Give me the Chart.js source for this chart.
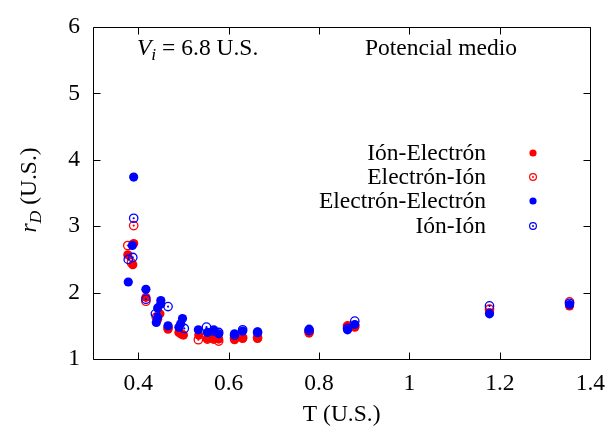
<!DOCTYPE html>
<html>
<head>
<meta charset="utf-8">
<script src="https://cdn.jsdelivr.net/npm/chart.js@4.4.1/dist/chart.umd.min.js"></script>
<style>
  html, body { margin: 0; padding: 0; background: #fff; }
  #wrap { width: 616px; height: 427px; position: relative; }
</style>
</head>
<body>
<div id="wrap"><canvas id="rdChart"></canvas></div>
<script>
// Screening radius r_D versus temperature, mean-potential run (V_i = 6.8)
const xTicks = [0.4, 0.6, 0.8, 1, 1.2, 1.4];
const yTicks = [1, 2, 3, 4, 5, 6];

const seriesNames = ['Ión-Electrón', 'Electrón-Ión', 'Electrón-Electrón', 'Ión-Ión'];

// Ión-Electrón
const ieT = [0.377, 0.388, 0.390, 0.417, 0.443, 0.448, 0.466, 0.490, 0.500, 0.534, 0.553, 0.567, 0.578, 0.613, 0.631, 0.664, 0.778, 0.863, 0.879, 1.177, 1.354];
const ieR = [2.57, 2.42, 2.74, 1.93, 1.60, 1.68, 1.45, 1.40, 1.36, 1.36, 1.31, 1.31, 1.30, 1.29, 1.31, 1.31, 1.39, 1.49, 1.48, 1.70, 1.80];

// Electrón-Ión
const eiT = [0.377, 0.385, 0.390, 0.417, 0.440, 0.466, 0.495, 0.533, 0.553, 0.567, 0.578, 0.613, 0.631, 0.664, 0.778, 0.863, 0.879, 1.177, 1.354];
const eiR = [2.71, 2.45, 3.01, 1.87, 1.63, 1.47, 1.38, 1.29, 1.30, 1.30, 1.27, 1.31, 1.32, 1.32, 1.41, 1.50, 1.50, 1.75, 1.86];

// Electrón-Electrón
const eeT = [0.378, 0.387, 0.390, 0.417, 0.440, 0.443, 0.443, 0.450, 0.450, 0.466, 0.490, 0.494, 0.498, 0.533, 0.553, 0.567, 0.578, 0.613, 0.631, 0.664, 0.778, 0.863, 0.879, 1.177, 1.354];
const eeR = [2.16, 2.71, 3.74, 2.05, 1.55, 1.63, 1.77, 1.88, 1.83, 1.50, 1.48, 1.53, 1.61, 1.44, 1.40, 1.44, 1.38, 1.38, 1.42, 1.41, 1.45, 1.44, 1.52, 1.68, 1.82];

// Ión-Ión
const iiT = [0.378, 0.388, 0.390, 0.417, 0.438, 0.466, 0.502, 0.551, 0.567, 0.578, 0.613, 0.631, 0.664, 0.778, 0.863, 0.879, 1.177, 1.354];
const iiR = [2.50, 2.53, 3.12, 1.90, 1.68, 1.79, 1.46, 1.48, 1.42, 1.40, 1.36, 1.44, 1.40, 1.43, 1.46, 1.57, 1.80, 1.84];

const RED = 'rgb(255, 0, 0)';
const BLUE = 'rgb(0, 0, 255)';
const FONT = "'Liberation Serif', 'Times New Roman', serif";
const FONT_SIZE = 23.5;

function toPoints(xs, ys) {
  return xs.map((x, i) => ({ x: x, y: ys[i] }));
}

const legendItems = [
  { label: seriesNames[0], color: RED, open: false },
  { label: seriesNames[1], color: RED, open: true },
  { label: seriesNames[2], color: BLUE, open: false },
  { label: seriesNames[3], color: BLUE, open: true }
];

function dot(ctx, x, y, r, color) {
  ctx.fillStyle = color;
  ctx.beginPath();
  ctx.arc(x, y, r, 0, Math.PI * 2);
  ctx.fill();
}

// centre dot of the open-circle markers, drawn right after each dataset
const centreDots = {
  id: 'centreDots',
  afterDatasetDraw(chart, args) {
    const ds = chart.data.datasets[args.index];
    if (!ds.openMarker) return;
    const ctx = chart.ctx;
    ctx.save();
    args.meta.data.forEach(pt => dot(ctx, pt.x, pt.y, 1.1, ds.borderColor));
    ctx.restore();
  }
};

// frame, inward ticks on all sides, titles, key and annotations
const gnuplotFrame = {
  id: 'gnuplotFrame',
  afterDraw(chart) {
    const { ctx, chartArea: a, scales } = chart;
    const L = Math.round(a.left) + 0.5, R = Math.round(a.right) + 0.5;
    const T = Math.round(a.top) + 0.5, B = Math.round(a.bottom) + 0.5;
    const tl = 7;
    ctx.save();
    ctx.strokeStyle = '#000';
    ctx.lineWidth = 1;
    ctx.beginPath();
    ctx.rect(L, T, R - L, B - T);
    xTicks.forEach(v => {
      const px = Math.round(scales.x.getPixelForValue(v)) + 0.5;
      ctx.moveTo(px, B); ctx.lineTo(px, B - tl);
      ctx.moveTo(px, T); ctx.lineTo(px, T + tl);
    });
    yTicks.forEach(v => {
      const py = Math.round(scales.y.getPixelForValue(v)) + 0.5;
      ctx.moveTo(L, py); ctx.lineTo(L + tl, py);
      ctx.moveTo(R, py); ctx.lineTo(R - tl, py);
    });
    ctx.stroke();

    ctx.fillStyle = '#000';
    ctx.textBaseline = 'alphabetic';

    // x title
    ctx.font = `${FONT_SIZE}px ${FONT}`;
    ctx.textAlign = 'center';
    ctx.fillText('T (U.S.)', (a.left + a.right) / 2, 421);

    // y title: r_D (U.S.)
    ctx.save();
    ctx.translate(36, 190);
    ctx.rotate(-Math.PI / 2);
    ctx.textAlign = 'left';
    const partR = 'r';
    const partD = 'D';
    const partRest = ' (U.S.)';
    ctx.font = `italic ${FONT_SIZE}px ${FONT}`;
    const wR = ctx.measureText(partR).width;
    ctx.font = `italic ${FONT_SIZE * 0.75}px ${FONT}`;
    const wD = ctx.measureText(partD).width;
    ctx.font = `${FONT_SIZE}px ${FONT}`;
    const wRest = ctx.measureText(partRest).width;
    const x0 = -(wR + wD + wRest) / 2;
    ctx.font = `italic ${FONT_SIZE}px ${FONT}`;
    ctx.fillText(partR, x0, 0);
    ctx.font = `italic ${FONT_SIZE * 0.75}px ${FONT}`;
    ctx.fillText(partD, x0 + wR, 5);
    ctx.font = `${FONT_SIZE}px ${FONT}`;
    ctx.fillText(partRest, x0 + wR + wD, 0);
    ctx.restore();

    // V_i = 6.8 U.S.
    ctx.textAlign = 'left';
    let ax = 137;
    const ay = 55;
    ctx.font = `italic ${FONT_SIZE}px ${FONT}`;
    ctx.fillText('V', ax, ay);
    ax += ctx.measureText('V').width;
    ctx.font = `italic ${FONT_SIZE * 0.75}px ${FONT}`;
    ctx.fillText('i', ax, ay + 5);
    ax += ctx.measureText('i').width;
    ctx.font = `${FONT_SIZE}px ${FONT}`;
    ctx.fillText(' = 6.8 U.S.', ax, ay);
    ctx.fillText('Potencial medio', 365, ay);

    // key
    const keyY = [153, 177, 201, 226];
    ctx.textAlign = 'right';
    ctx.textBaseline = 'middle';
    legendItems.forEach((it, i) => {
      ctx.fillStyle = '#000';
      ctx.font = `${FONT_SIZE}px ${FONT}`;
      ctx.fillText(it.label, 486, keyY[i] + 1);
      if (it.open) {
        ctx.strokeStyle = it.color;
        ctx.lineWidth = 1.2;
        ctx.beginPath();
        ctx.arc(533, keyY[i], 3.4, 0, Math.PI * 2);
        ctx.stroke();
        dot(ctx, 533, keyY[i], 1, it.color);
      } else {
        dot(ctx, 533, keyY[i], 3.6, it.color);
      }
    });
    ctx.restore();
  }
};

const tickFont = { family: FONT, size: FONT_SIZE };

new Chart(document.getElementById('rdChart'), {
  type: 'scatter',
  data: {
    datasets: [
      { label: seriesNames[0], data: toPoints(ieT, ieR), order: 4,
        pointRadius: 4.6, pointBorderWidth: 0,
        backgroundColor: RED, borderColor: RED },
      { label: seriesNames[1], data: toPoints(eiT, eiR), order: 3, openMarker: true,
        pointRadius: 4.2, pointBorderWidth: 1.3,
        backgroundColor: 'rgba(0,0,0,0)', borderColor: RED },
      { label: seriesNames[2], data: toPoints(eeT, eeR), order: 2,
        pointRadius: 4.6, pointBorderWidth: 0,
        backgroundColor: BLUE, borderColor: BLUE },
      { label: seriesNames[3], data: toPoints(iiT, iiR), order: 1, openMarker: true,
        pointRadius: 4.2, pointBorderWidth: 1.3,
        backgroundColor: 'rgba(0,0,0,0)', borderColor: BLUE }
    ]
  },
  options: {
    responsive: true,
    maintainAspectRatio: false,
    animation: false,
    events: [],
    layout: { padding: { left: 0, right: 21, top: 21, bottom: 0 } },
    plugins: {
      legend: { display: false },
      tooltip: { enabled: false }
    },
    scales: {
      x: {
        type: 'linear',
        min: 0.3,
        max: 1.4,
        grid: { display: false, drawTicks: false },
        border: { display: false },
        afterBuildTicks: s => { s.ticks = xTicks.map(v => ({ value: v })); },
        afterFit: s => { s.height = 68; },
        ticks: {
          color: '#000',
          font: tickFont,
          padding: 11,
          maxRotation: 0,
          callback: v => String(v)
        }
      },
      y: {
        type: 'linear',
        min: 1,
        max: 6,
        grid: { display: false, drawTicks: false },
        border: { display: false },
        afterBuildTicks: s => { s.ticks = yTicks.map(v => ({ value: v })); },
        afterFit: s => { s.width = 93; },
        ticks: {
          color: '#000',
          font: tickFont,
          padding: 13,
          callback: v => String(v)
        }
      }
    }
  },
  plugins: [centreDots, gnuplotFrame]
});
</script>
</body>
</html>
